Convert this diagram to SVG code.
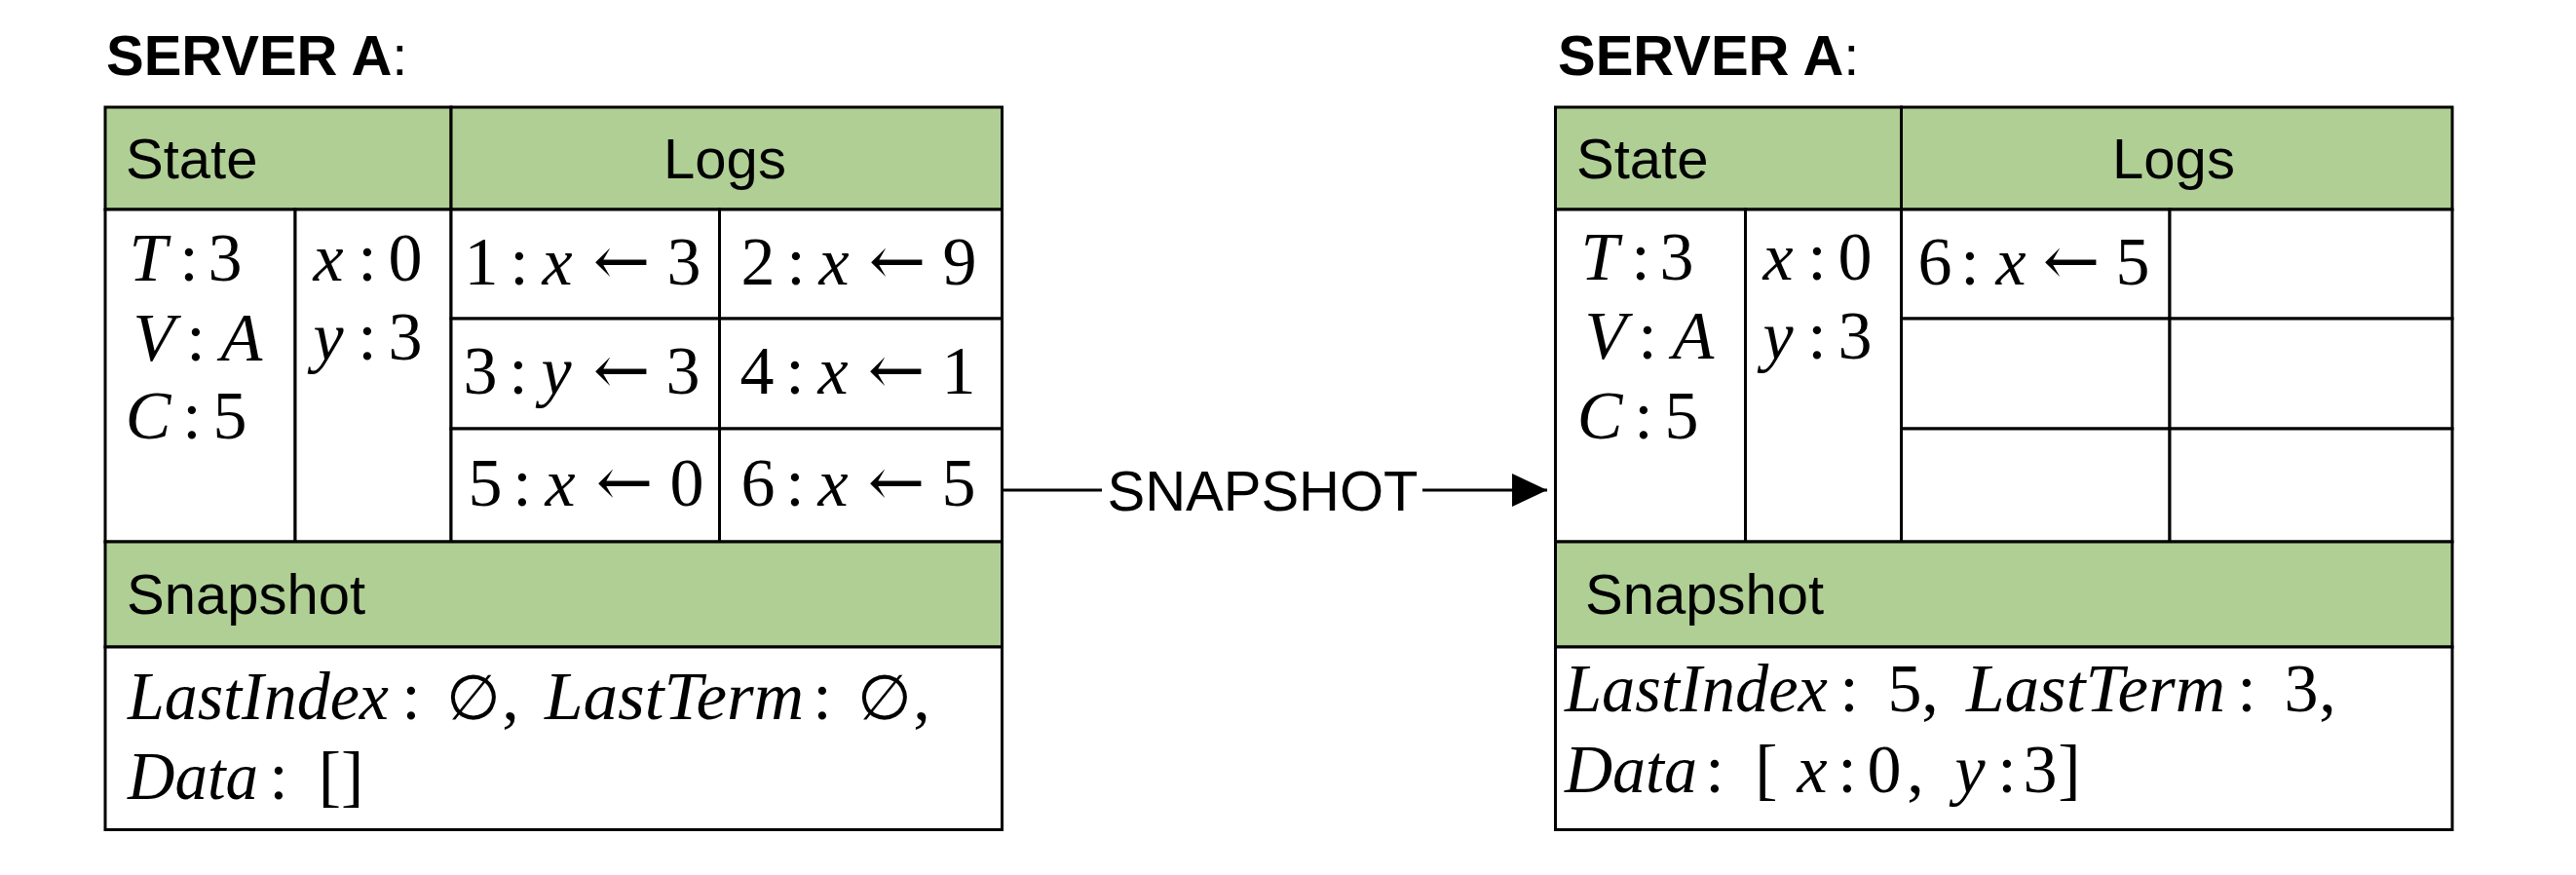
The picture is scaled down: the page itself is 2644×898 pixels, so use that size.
<svg xmlns="http://www.w3.org/2000/svg" width="2644" height="898" viewBox="0 0 2644 898">
<style>
.hdr{fill:#B0CF95;stroke:#000;stroke-width:3}
.cell{fill:#fff;stroke:#000;stroke-width:3}
.sans{font-family:"Liberation Sans",Arial,sans-serif;font-size:58px;fill:#000}
.title{font-family:"Liberation Sans",Arial,sans-serif;font-size:58px;font-weight:bold;fill:#000}
.m{font-family:"Liberation Serif","DejaVu Serif",serif;font-size:70px;fill:#000;text-anchor:middle}
.mw{font-family:"Liberation Serif","DejaVu Serif",serif;font-size:70px;fill:#000;font-style:italic}
.it{font-style:italic}
.arr{font-family:"DejaVu Serif","DejaVu Sans",serif;font-size:70px}
.empty{font-size:64px}
.conn{fill:none;stroke:#000;stroke-width:3}
</style>
<defs>
<marker id="arrow" markerUnits="userSpaceOnUse" markerWidth="36" markerHeight="34" refX="36" refY="17" orient="auto">
<path d="M0,0 L36,17 L0,34 Z" fill="#000"/>
</marker>
</defs>

<!-- LEFT SERVER -->
<g id="left-title"><text class="title" x="109" y="77">SERVER A<tspan font-weight="normal">:</tspan></text></g>
<g id="left-state-header"><rect class="hdr" x="108" y="110" width="355" height="105"/><text class="sans" x="129" y="183">State</text></g>
<g id="left-logs-header"><rect class="hdr" x="463" y="110" width="565.5" height="105"/><text class="sans" x="744" y="183" text-anchor="middle">Logs</text></g>
<g id="left-state-vars">
<rect class="cell" x="108" y="215" width="195" height="341"/>
<text class="m" y="288"><tspan class="it" x="152">T</tspan><tspan x="194">:</tspan><tspan x="231">3</tspan></text>
<text class="m" y="370"><tspan class="it" x="158">V</tspan><tspan x="201">:</tspan><tspan class="it" x="248">A</tspan></text>
<text class="m" y="450"><tspan class="it" x="152">C</tspan><tspan x="197">:</tspan><tspan x="236">5</tspan></text>
</g>
<g id="left-state-data">
<rect class="cell" x="303" y="215" width="160" height="341"/>
<text class="m" y="288"><tspan class="it" x="337">x</tspan><tspan x="377">:</tspan><tspan x="416">0</tspan></text>
<text class="m" y="369"><tspan class="it" x="337">y</tspan><tspan x="377">:</tspan><tspan x="416">3</tspan></text>
</g>
<g id="left-log-1"><rect class="cell" x="463" y="215" width="275.5" height="112"/>
<text class="m" y="292"><tspan x="494">1</tspan><tspan x="533">:</tspan><tspan class="it" x="572">x</tspan><tspan class="arr" x="638">←</tspan><tspan x="702">3</tspan></text></g>
<g id="left-log-2"><rect class="cell" x="738.5" y="215" width="290" height="112"/>
<text class="m" y="292"><tspan x="778">2</tspan><tspan x="817">:</tspan><tspan class="it" x="856">x</tspan><tspan class="arr" x="921">←</tspan><tspan x="985">9</tspan></text></g>
<g id="left-log-3"><rect class="cell" x="463" y="327" width="275.5" height="113"/>
<text class="m" y="404"><tspan x="493">3</tspan><tspan x="532">:</tspan><tspan class="it" x="571">y</tspan><tspan class="arr" x="638">←</tspan><tspan x="701">3</tspan></text></g>
<g id="left-log-4"><rect class="cell" x="738.5" y="327" width="290" height="113"/>
<text class="m" y="404"><tspan x="777">4</tspan><tspan x="816">:</tspan><tspan class="it" x="855">x</tspan><tspan class="arr" x="920">←</tspan><tspan x="984">1</tspan></text></g>
<g id="left-log-5"><rect class="cell" x="463" y="440" width="275.5" height="116"/>
<text class="m" y="519"><tspan x="498">5</tspan><tspan x="536">:</tspan><tspan class="it" x="575">x</tspan><tspan class="arr" x="641">←</tspan><tspan x="705">0</tspan></text></g>
<g id="left-log-6"><rect class="cell" x="738.5" y="440" width="290" height="116"/>
<text class="m" y="519"><tspan x="778">6</tspan><tspan x="816">:</tspan><tspan class="it" x="855">x</tspan><tspan class="arr" x="920">←</tspan><tspan x="984">5</tspan></text></g>
<g id="left-snapshot-header"><rect class="hdr" x="108" y="556" width="920.5" height="108"/><text class="sans" x="130" y="630">Snapshot</text></g>
<g id="left-snapshot-body"><rect class="cell" x="108" y="664" width="920.5" height="187.5"/>
<text class="mw" x="131" y="738" textLength="268" lengthAdjust="spacingAndGlyphs">LastIndex</text>
<text class="m" y="738"><tspan x="422">:</tspan><tspan class="empty" x="486">∅</tspan><tspan x="524">,</tspan></text>
<text class="mw" x="559" y="738" textLength="266" lengthAdjust="spacingAndGlyphs">LastTerm</text>
<text class="m" y="738"><tspan x="844">:</tspan><tspan class="empty" x="908">∅</tspan><tspan x="946">,</tspan></text>
<text class="mw" x="131" y="820" textLength="134" lengthAdjust="spacingAndGlyphs">Data</text>
<text class="m" y="820"><tspan x="286">:</tspan><tspan x="350">[]</tspan></text>
</g>

<!-- RIGHT SERVER -->
<g id="right-title"><text class="title" x="1599" y="77">SERVER A<tspan font-weight="normal">:</tspan></text></g>
<g id="right-state-header"><rect class="hdr" x="1596.5" y="110" width="355" height="105"/><text class="sans" x="1618" y="183">State</text></g>
<g id="right-logs-header"><rect class="hdr" x="1951.5" y="110" width="565.5" height="105"/><text class="sans" x="2231" y="183" text-anchor="middle">Logs</text></g>
<g id="right-state-vars">
<rect class="cell" x="1596.5" y="215" width="195" height="341"/>
<text class="m" y="287"><tspan class="it" x="1642">T</tspan><tspan x="1684">:</tspan><tspan x="1721">3</tspan></text>
<text class="m" y="368"><tspan class="it" x="1648">V</tspan><tspan x="1691">:</tspan><tspan class="it" x="1738">A</tspan></text>
<text class="m" y="450"><tspan class="it" x="1642">C</tspan><tspan x="1687">:</tspan><tspan x="1726">5</tspan></text>
</g>
<g id="right-state-data">
<rect class="cell" x="1791.5" y="215" width="160" height="341"/>
<text class="m" y="287"><tspan class="it" x="1825">x</tspan><tspan x="1865">:</tspan><tspan x="1904">0</tspan></text>
<text class="m" y="368"><tspan class="it" x="1825">y</tspan><tspan x="1865">:</tspan><tspan x="1904">3</tspan></text>
</g>
<g id="right-log-1"><rect class="cell" x="1951.5" y="215" width="275.5" height="112"/>
<text class="m" y="292"><tspan x="1986">6</tspan><tspan x="2022">:</tspan><tspan class="it" x="2064">x</tspan><tspan class="arr" x="2126">←</tspan><tspan x="2189">5</tspan></text></g>
<g id="right-log-2"><rect class="cell" x="2227" y="215" width="290" height="112"/></g>
<g id="right-log-3"><rect class="cell" x="1951.5" y="327" width="275.5" height="113"/></g>
<g id="right-log-4"><rect class="cell" x="2227" y="327" width="290" height="113"/></g>
<g id="right-log-5"><rect class="cell" x="1951.5" y="440" width="275.5" height="116"/></g>
<g id="right-log-6"><rect class="cell" x="2227" y="440" width="290" height="116"/></g>
<g id="right-snapshot-header"><rect class="hdr" x="1596.5" y="556" width="920.5" height="108"/><text class="sans" x="1627" y="630">Snapshot</text></g>
<g id="right-snapshot-body"><rect class="cell" x="1596.5" y="664" width="920.5" height="187.5"/>
<text class="mw" x="1606" y="730" textLength="270" lengthAdjust="spacingAndGlyphs">LastIndex</text>
<text class="m" y="730"><tspan x="1898">:</tspan><tspan x="1955">5</tspan><tspan x="1981">,</tspan></text>
<text class="mw" x="2018" y="730" textLength="266" lengthAdjust="spacingAndGlyphs">LastTerm</text>
<text class="m" y="730"><tspan x="2306">:</tspan><tspan x="2362">3</tspan><tspan x="2389">,</tspan></text>
<text class="mw" x="1606" y="813" textLength="136" lengthAdjust="spacingAndGlyphs">Data</text>
<text class="m" y="813"><tspan x="1760">:</tspan><tspan x="1813">[</tspan><tspan class="it" x="1860">x</tspan><tspan x="1896">:</tspan><tspan x="1934">0</tspan><tspan x="1966">,</tspan><tspan class="it" x="2022">y</tspan><tspan x="2060">:</tspan><tspan x="2094">3</tspan><tspan x="2124">]</tspan></text>
</g>

<!-- CONNECTORS -->
<g id="connectors">
<g id="edge-snapshot">
<path class="conn" d="M1028.5,503 H1588" marker-end="url(#arrow)"/>
<rect x="1131" y="470" width="329" height="66" fill="#fff"/>
<text class="sans" x="1296" y="524" font-size="59" text-anchor="middle">SNAPSHOT</text>
</g>
</g>
</svg>
